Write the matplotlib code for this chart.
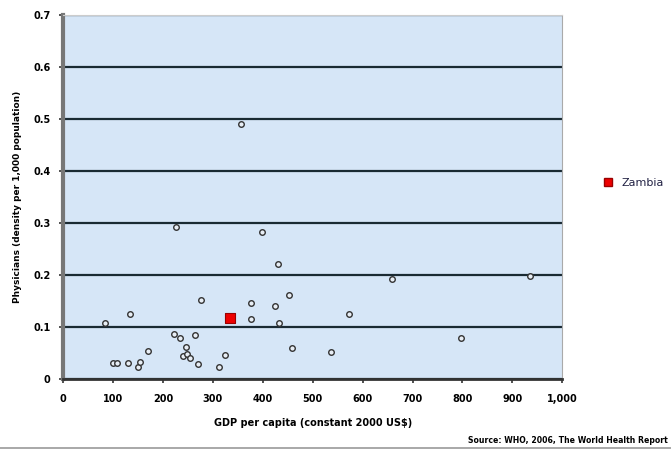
import matplotlib.pyplot as plt
import matplotlib.ticker as mticker
from matplotlib.lines import Line2D

# GDP per capita vs physician density (other countries)
gdp = [84, 100, 108, 131, 134, 151, 154, 171, 222, 226, 234, 241, 246, 249, 254,
       264, 271, 276, 313, 325, 356, 376, 376, 398, 425, 430, 433, 453, 459,
       536, 572, 659, 797, 936]
physicians = [0.107, 0.030, 0.030, 0.030, 0.125, 0.022, 0.033, 0.053, 0.087, 0.293,
              0.078, 0.044, 0.062, 0.047, 0.040, 0.085, 0.029, 0.152, 0.022, 0.046,
              0.490, 0.146, 0.115, 0.283, 0.140, 0.221, 0.107, 0.161, 0.059,
              0.051, 0.124, 0.192, 0.078, 0.197]

# highlighted country
zambia_gdp = [335]
zambia_phys = [0.117]

fig = plt.figure(figsize=(6.71, 4.5), dpi=100)
ax = fig.add_axes([0.094, 0.158, 0.744, 0.809])
ax.set_facecolor("#d6e6f7")

ax.scatter(gdp, physicians, s=16, facecolor="#e8eef5", edgecolor="#333333",
           linewidth=1.0, zorder=3)
ax.scatter(zambia_gdp, zambia_phys, s=55, marker="s", facecolor="#ee0000",
           edgecolor="#990000", linewidth=0.8, zorder=4)

ax.set_xlim(0, 1000)
ax.set_ylim(0, 0.7)
ax.set_xticks(range(0, 1001, 100))
ax.set_yticks([0, 0.1, 0.2, 0.3, 0.4, 0.5, 0.6, 0.7])
ax.xaxis.set_major_formatter(mticker.FuncFormatter(lambda v, p: f"{int(v):,}"))
ax.yaxis.set_major_formatter(mticker.FuncFormatter(lambda v, p: "0" if v == 0 else f"{v:.1f}"))

ax.grid(axis="y", color="#1a2a33", linewidth=1.6)
ax.set_axisbelow(True)
ax.tick_params(labelsize=7, length=3, width=1.2, color="#333333", pad=6)
ax.tick_params(axis="x", pad=8)
for lab in ax.get_xticklabels() + ax.get_yticklabels():
    lab.set_fontweight("bold")

ax.spines["left"].set_color("#777777")
ax.spines["left"].set_linewidth(3)
ax.spines["bottom"].set_color("#333333")
ax.spines["bottom"].set_linewidth(2)
ax.spines["top"].set_color("#cccccc")
ax.spines["right"].set_color("#aaaaaa")

ax.set_xlabel("GDP per capita (constant 2000 US$)", fontsize=7, fontweight="bold", labelpad=10)
ax.set_ylabel("Physicians (density per 1,000 population)", fontsize=6.5, fontweight="bold",
              labelpad=8)

handle = Line2D([], [], marker="s", linestyle="none", markersize=6,
                markerfacecolor="#ee0000", markeredgecolor="#990000")
fig.legend([handle], ["Zambia"], loc="center left", bbox_to_anchor=(0.875, 0.593),
           frameon=False, fontsize=8, handletextpad=0.2, labelcolor="#222244")

fig.add_artist(Line2D([0, 1], [0.005, 0.005], color="#999999", linewidth=1.2))
fig.text(0.995, 0.012, "Source: WHO, 2006, The World Health Report", fontsize=5.6,
         fontweight="bold", ha="right", va="bottom")

fig.savefig("out.png", dpi=100)
